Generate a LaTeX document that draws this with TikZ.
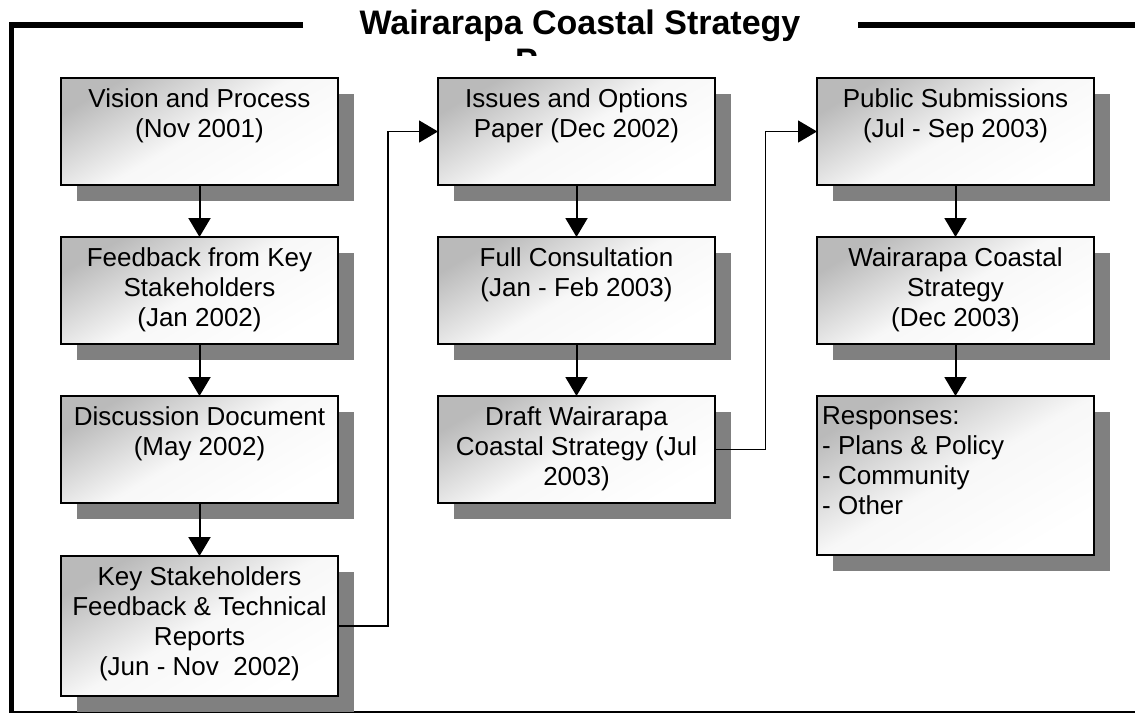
\documentclass[tikz,border=0pt]{standalone}
\usepackage{fontspec}
\setmainfont{Liberation Sans}
\usetikzlibrary{arrows.meta,shadows,calc}
\begin{document}
\begin{tikzpicture}[x=1pt,y=-1pt,
  boxstyle/.style={draw=black, line width=2pt, inner sep=0pt, outer sep=0pt,
    minimum width=277pt, anchor=north west,
    top color=black!27, bottom color=white, middle color=black!3, shading angle=30,
    drop shadow={shadow xshift=16pt, shadow yshift=-16pt, fill=black!50, opacity=1}},
  txt/.style={font=\fontsize{26}{30}\selectfont, align=center, inner sep=0pt, anchor=north},
  ttl/.style={font=\fontsize{34}{38}\selectfont\bfseries, inner sep=0pt},
  varrow/.style={line width=2pt, -{Triangle[length=19pt,width=22pt]}},
  conn/.style={line width=1.4pt, -{Triangle[length=19pt,width=22pt]}},
  frame/.style={line width=5.5pt, line cap=butt}
]
\useasboundingbox (0,0) rectangle (1135,713);

% frame
\coordinate (fa) at (303,25);
\coordinate (fb) at (11.5,25);
\coordinate (fc) at (11.5,713);
\coordinate (fd) at (858,25);
\coordinate (fe) at (1135,25);
\coordinate (ff) at (9,712);
\coordinate (fg) at (1135,712);
\draw[frame] (fa) -- (fb) -- (fc);
\draw[frame] (fd) -- (fe);
\draw[line width=1.5pt] (ff) -- (fg);

% title
\node[ttl, anchor=base] (title) at (580,34) {Wairarapa Coastal Strategy};
\begin{scope}
  \clip (0,0) rectangle (1135,55);
  \node[ttl, anchor=base west] (titleP) at (515,72) {P};
\end{scope}

% boxes
\node[boxstyle, minimum height=107pt] (b1) at (61,78) {};
\node[boxstyle, minimum height=107pt] (b2) at (61,237) {};
\node[boxstyle, minimum height=107pt] (b3) at (61,396) {};
\node[boxstyle, minimum height=140pt] (b4) at (61,556) {};
\node[boxstyle, minimum height=107pt] (b5) at (438,78) {};
\node[boxstyle, minimum height=107pt] (b6) at (438,237) {};
\node[boxstyle, minimum height=107pt] (b7) at (438,396) {};
\node[boxstyle, minimum height=107pt] (b8) at (817,78) {};
\node[boxstyle, minimum height=107pt] (b9) at (817,237) {};
\node[boxstyle, minimum height=159pt] (b10) at (817,396) {};

% texts
\node[txt] (t1) at ($(b1.north)+(0,10)$) {Vision and Process\\(Nov 2001)};
\node[txt] (t2) at ($(b2.north)+(0,10)$) {Feedback from Key\\Stakeholders\\(Jan 2002)};
\node[txt] (t3) at ($(b3.north)+(0,10)$) {Discussion Document\\(May 2002)};
\node[txt] (t4) at ($(b4.north)+(0,10)$) {Key Stakeholders\\Feedback \& Technical\\Reports\\(Jun - Nov\ \ 2002)};
\node[txt] (t5) at ($(b5.north)+(0,10)$) {Issues and Options\\Paper (Dec 2002)};
\node[txt] (t6) at ($(b6.north)+(0,10)$) {Full Consultation\\(Jan - Feb 2003)};
\node[txt] (t7) at ($(b7.north)+(0,10)$) {Draft Wairarapa\\Coastal Strategy (Jul\\2003)};
\node[txt] (t8) at ($(b8.north)+(0,10)$) {Public Submissions\\(Jul - Sep 2003)};
\node[txt] (t9) at ($(b9.north)+(0,10)$) {Wairarapa Coastal\\Strategy\\(Dec 2003)};
\node[txt, align=left, anchor=north west] (t10) at ($(b10.north west)+(5,10)$) {Responses:\\- Plans \& Policy\\- Community\\- Other};

% arrows
\draw[varrow] (b1.south) -- (b2.north);
\draw[varrow] (b2.south) -- (b3.north);
\draw[varrow] (b3.south) -- (b4.north);
\draw[varrow] (b5.south) -- (b6.north);
\draw[varrow] (b6.south) -- (b7.north);
\draw[varrow] (b8.south) -- (b9.north);
\draw[varrow] (b9.south) -- (b10.north);
\draw[conn] (b4.east) -- ++(50,0) |- (b5.west);
\draw[conn] (b7.east) -- ++(50.5,0) |- (b8.west);
\end{tikzpicture}
\end{document}
